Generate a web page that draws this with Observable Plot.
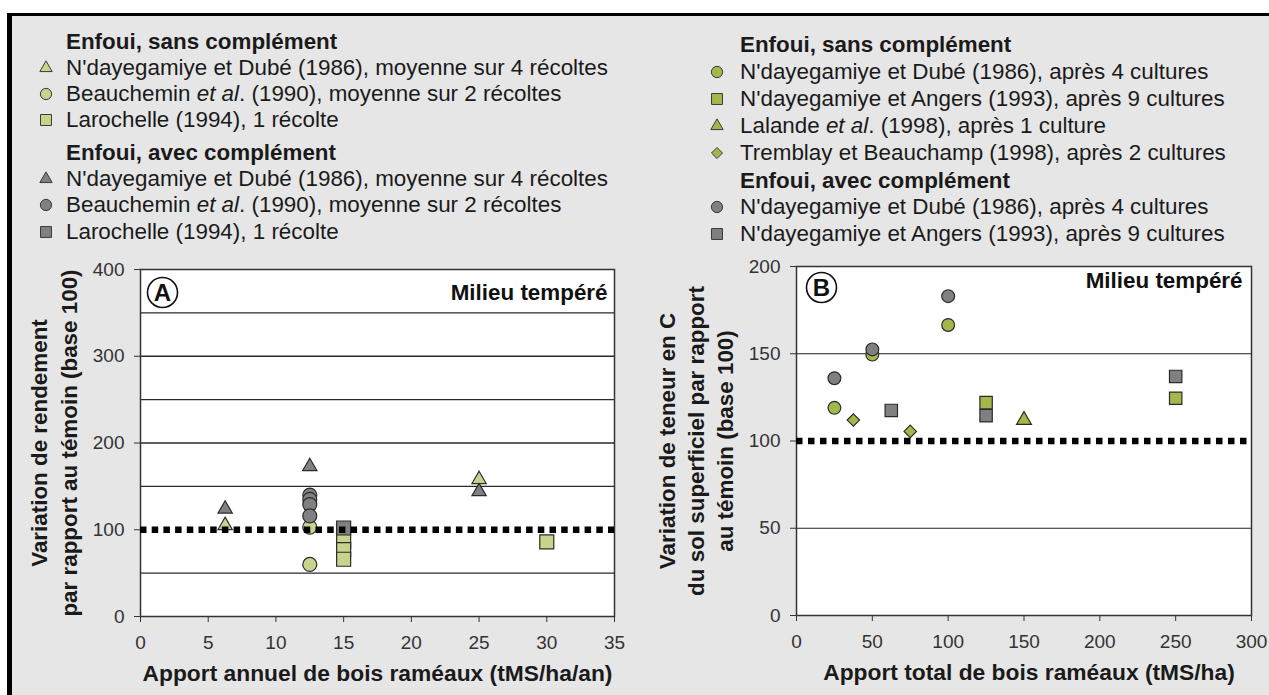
<!DOCTYPE html>
<html><head><meta charset="utf-8">
<script src="https://cdn.jsdelivr.net/npm/d3@7"></script>
<script src="https://cdn.jsdelivr.net/npm/@observablehq/plot@0.6"></script>
<style>
html,body{margin:0;padding:0;background:#fff;}
#page{position:relative;width:1269px;height:695px;overflow:hidden;background:#fff;font-family:"Liberation Sans",Arial,Helvetica,sans-serif;}
#panel{position:absolute;left:7px;top:13px;right:0;bottom:0;background:#e6e6e6;border-top:3px solid #000;border-left:5px solid #000;}
.chart{position:absolute;}
.leg{position:absolute;font-size:22.4px;line-height:26px;height:26px;color:#1a1a1a;white-space:nowrap;}
.leg.head{font-weight:bold;}
.sym{position:absolute;overflow:visible;}
</style></head>
<body><div id="page"><div id="panel"></div></div>
<script>
// ---------------- DATA ----------------
// Panel A : yield variation vs annual input (tMS/ha/an)
const xTicksA = [0, 5, 10, 15, 20, 25, 30, 35];
const yTicksA = [0, 100, 200, 300, 400];
const gridA = [50, 150, 200, 250, 300, 350];
const aNdDubeSansX = [6.25, 25];
const aNdDubeSansY = [105, 158];
const aBeauSansX = [12.5, 12.5];
const aBeauSansY = [103, 60];
const aLaroSansX = [15, 15, 15, 30];
const aLaroSansY = [87, 77, 66, 86];
const aNdDubeAvecX = [6.25, 12.5, 25];
const aNdDubeAvecY = [124, 173, 144];
const aBeauAvecX = [12.5, 12.5, 12.5, 12.5];
const aBeauAvecY = [140, 135, 129, 116];
const aLaroAvecX = [15];
const aLaroAvecY = [102];

// Panel B : soil C variation vs total input (tMS/ha)
const xTicksB = [0, 50, 100, 150, 200, 250, 300];
const yTicksB = [0, 50, 100, 150, 200];
const gridB = [50, 150];
const bNdDubeSansX = [25, 50, 100];
const bNdDubeSansY = [119, 149.5, 166.5];
const bNdAngersSansX = [125, 250];
const bNdAngersSansY = [122, 124.5];
const bLalandeSansX = [150];
const bLalandeSansY = [112];
const bTremblaySansX = [37.5, 75];
const bTremblaySansY = [112, 105.5];
const bNdDubeAvecX = [25, 50, 100];
const bNdDubeAvecY = [136, 152.5, 183];
const bNdAngersAvecX = [62.5, 125, 250];
const bNdAngersAvecY = [117.5, 114.5, 137];

const reference = [100];

// Texts
const titleYA = "Variation de rendement\npar rapport au témoin (base 100)";
const titleXA = "Apport annuel de bois raméaux (tMS/ha/an)";
const titleYB = "Variation de teneur en C\ndu sol superficiel par rapport\nau témoin (base 100)";
const titleXB = "Apport total de bois raméaux (tMS/ha)";
const milieu = "Milieu tempéré";
const panelLetters = ["A", "B"];
const legendHeads = ["Enfoui, sans complément", "Enfoui, avec complément"];
const legendLeftSans = ["N'dayegamiye et Dubé (1986), moyenne sur 4 récoltes", "Beauchemin <i>et al</i>. (1990), moyenne sur 2 récoltes", "Larochelle (1994), 1 récolte"];
const legendLeftAvec = ["N'dayegamiye et Dubé (1986), moyenne sur 4 récoltes", "Beauchemin <i>et al</i>. (1990), moyenne sur 2 récoltes", "Larochelle (1994), 1 récolte"];
const legendRightSans = ["N'dayegamiye et Dubé (1986), après 4 cultures", "N'dayegamiye et Angers (1993), après 9 cultures", "Lalande <i>et al</i>. (1998), après 1 culture", "Tremblay et Beauchamp (1998), après 2 cultures"];
const legendRightAvec = ["N'dayegamiye et Dubé (1986), après 4 cultures", "N'dayegamiye et Angers (1993), après 9 cultures"];

// ---------------- STYLE ----------------
const font = '"Liberation Sans", Arial, Helvetica, sans-serif';
const greenA = "#c8d48e", greenB = "#a3b84b", gray = "#808080", edge = "#2b2b2b";
const page = document.getElementById("page");

const pts = (xs, ys) => xs.map((x, i) => ({x, y: ys[i]}));
const dots = (xs, ys, symbol, fill, r) =>
  Plot.dot(pts(xs, ys), {x: "x", y: "y", symbol, r, fill, stroke: edge, strokeWidth: 1.2});

function decorations(o) {
  return [
    Plot.text([o.titleY], {frameAnchor: "left", rotate: -90, dx: o.titleDx, fontSize: 22.4, fontWeight: "bold", lineHeight: o.lh, textAnchor: "middle", lineAnchor: "middle", fill: "#1a1a1a"}),
    Plot.text([o.titleX], {frameAnchor: "bottom", dx: o.xDx, dy: 57, fontSize: 22.8, fontWeight: "bold", textAnchor: "middle", lineAnchor: "middle", fill: "#1a1a1a"}),
    Plot.text([milieu], {frameAnchor: "top-right", dx: o.mDx, dy: o.mDy, fontSize: 22.4, fontWeight: "bold", textAnchor: "end", lineAnchor: "middle", fill: "#111"}),
    Plot.dot([o.letter], {frameAnchor: "top-left", dx: o.cDx, dy: o.cDy, r: 15, fill: "white", stroke: "#111", strokeWidth: 1.6}),
    Plot.text([o.letter], {frameAnchor: "top-left", dx: o.cDx, dy: o.cDy + 1, fontSize: 24, fontWeight: "bold", textAnchor: "middle", lineAnchor: "middle", fill: "#111"})
  ];
}

// ---------------- PANEL A ----------------
const plotA = Plot.plot({
  width: 621, height: 445,
  marginLeft: 126, marginRight: 21, marginTop: 19, marginBottom: 79,
  style: {background: "transparent", fontFamily: font, color: "#333", overflow: "visible"},
  x: {domain: [0, 35]},
  y: {domain: [0, 400]},
  marks: [
    Plot.frame({fill: "white", stroke: "none"}),
    Plot.ruleY(gridA, {stroke: "#2a2a2a", strokeWidth: 1.4}),
    Plot.frame({stroke: "#333", strokeWidth: 1.5}),
    Plot.axisX(xTicksA, {tickSize: 6, tickPadding: 13, fontSize: 19, label: null}),
    Plot.axisY(yTicksA, {tickSize: 6, tickPadding: 10, fontSize: 19, label: null}),
    dots(aNdDubeSansX, aNdDubeSansY, "triangle", greenA, 5.3),
    dots(aBeauSansX, aBeauSansY, "circle", greenA, 7),
    dots(aLaroSansX, aLaroSansY, "square", greenA, 7.9),
    dots(aNdDubeAvecX, aNdDubeAvecY, "triangle", gray, 5.3),
    dots(aBeauAvecX, aBeauAvecY, "circle", gray, 7),
    dots(aLaroAvecX, aLaroAvecY, "square", gray, 7.9),
    Plot.ruleY(reference, {stroke: "#000", strokeWidth: 6.5, strokeDasharray: "6.5,5.2"}),
    ...decorations({titleY: titleYA, titleX: titleXA, titleDx: -88, lh: 1.34, xDx: 0, mDx: -7, mDy: 23, letter: panelLetters[0], cDx: 22, cDy: 23})
  ]
});
plotA.classList.add("chart");
plotA.style.left = "14px"; plotA.style.top = "250px";
page.appendChild(plotA);

// ---------------- PANEL B ----------------
const plotB = Plot.plot({
  width: 629, height: 445,
  marginLeft: 156, marginRight: 18, marginTop: 16, marginBottom: 80,
  style: {background: "transparent", fontFamily: font, color: "#333", overflow: "visible"},
  x: {domain: [0, 300]},
  y: {domain: [0, 200]},
  marks: [
    Plot.frame({fill: "white", stroke: "none"}),
    Plot.ruleY(gridB, {stroke: "#222", strokeWidth: 1.2}),
    Plot.frame({stroke: "#333", strokeWidth: 1.5}),
    Plot.axisX(xTicksB, {tickSize: 6, tickPadding: 13, fontSize: 19, label: null}),
    Plot.axisY(yTicksB, {tickSize: 6, tickPadding: 10, fontSize: 19, label: null}),
    dots(bNdDubeSansX, bNdDubeSansY, "circle", greenB, 6.4),
    dots(bNdAngersSansX, bNdAngersSansY, "square", greenB, 7),
    dots(bLalandeSansX, bLalandeSansY, "triangle", greenB, 5.5),
    dots(bTremblaySansX, bTremblaySansY, "diamond2", greenB, 5.6),
    dots(bNdDubeAvecX, bNdDubeAvecY, "circle", gray, 6.4),
    dots(bNdAngersAvecX, bNdAngersAvecY, "square", gray, 7),
    Plot.ruleY(reference, {stroke: "#000", strokeWidth: 6.5, strokeDasharray: "6.5,5.5"}),
    ...decorations({titleY: titleYB, titleX: titleXB, titleDx: -102, lh: 1.3, xDx: 5, mDx: -9, mDy: 14, letter: panelLetters[1], cDx: 25, cDy: 21})
  ]
});
plotB.classList.add("chart");
plotB.style.left = "640px"; plotB.style.top = "250px";
page.appendChild(plotB);

// ---------------- LEGENDS ----------------
const symTypes = {triangle: d3.symbolTriangle, circle: d3.symbolCircle, square: d3.symbolSquare, diamond2: d3.symbolDiamond2};
const symSizes = {triangle: 66, circle: 100, square: 120, diamond2: 78};
function legendRow(html, cy, textX, symX, symbol, fill, head) {
  const d = document.createElement("div");
  d.className = "leg" + (head ? " head" : "");
  d.style.left = textX + "px";
  d.style.top = (cy - 13) + "px";
  d.innerHTML = html;
  page.appendChild(d);
  if (symbol) {
    const s = d3.create("svg").attr("class", "sym").attr("width", 16).attr("height", 16)
      .style("left", (symX - 8) + "px").style("top", (cy - 8) + "px");
    s.append("path").attr("transform", "translate(8,8)")
      .attr("d", d3.symbol(symTypes[symbol], symSizes[symbol])())
      .attr("fill", fill).attr("stroke", "#3a3a3a").attr("stroke-width", 1);
    page.appendChild(s.node());
  }
}
// left legend
const leftRowsY = [42, 68, 94, 120, 153, 179, 205, 232];
const leftSyms = ["triangle", "circle", "square"];
legendRow(legendHeads[0], leftRowsY[0], 66, 0, null, null, true);
legendLeftSans.forEach((t, i) => legendRow(t, leftRowsY[1 + i], 66, 46, leftSyms[i], greenA));
legendRow(legendHeads[1], leftRowsY[4], 66, 0, null, null, true);
legendLeftAvec.forEach((t, i) => legendRow(t, leftRowsY[5 + i], 66, 46, leftSyms[i], gray));
// right legend
const rightRowsY = [45, 72, 99, 126, 153, 181, 207, 234];
const rightSyms = ["circle", "square", "triangle", "diamond2"];
legendRow(legendHeads[0], rightRowsY[0], 740, 0, null, null, true);
legendRightSans.forEach((t, i) => legendRow(t, rightRowsY[1 + i], 740, 717, rightSyms[i], greenB));
legendRow(legendHeads[1], rightRowsY[5], 740, 0, null, null, true);
legendRightAvec.forEach((t, i) => legendRow(t, rightRowsY[6 + i], 740, 717, rightSyms[i], gray));
</script>
</body></html>
